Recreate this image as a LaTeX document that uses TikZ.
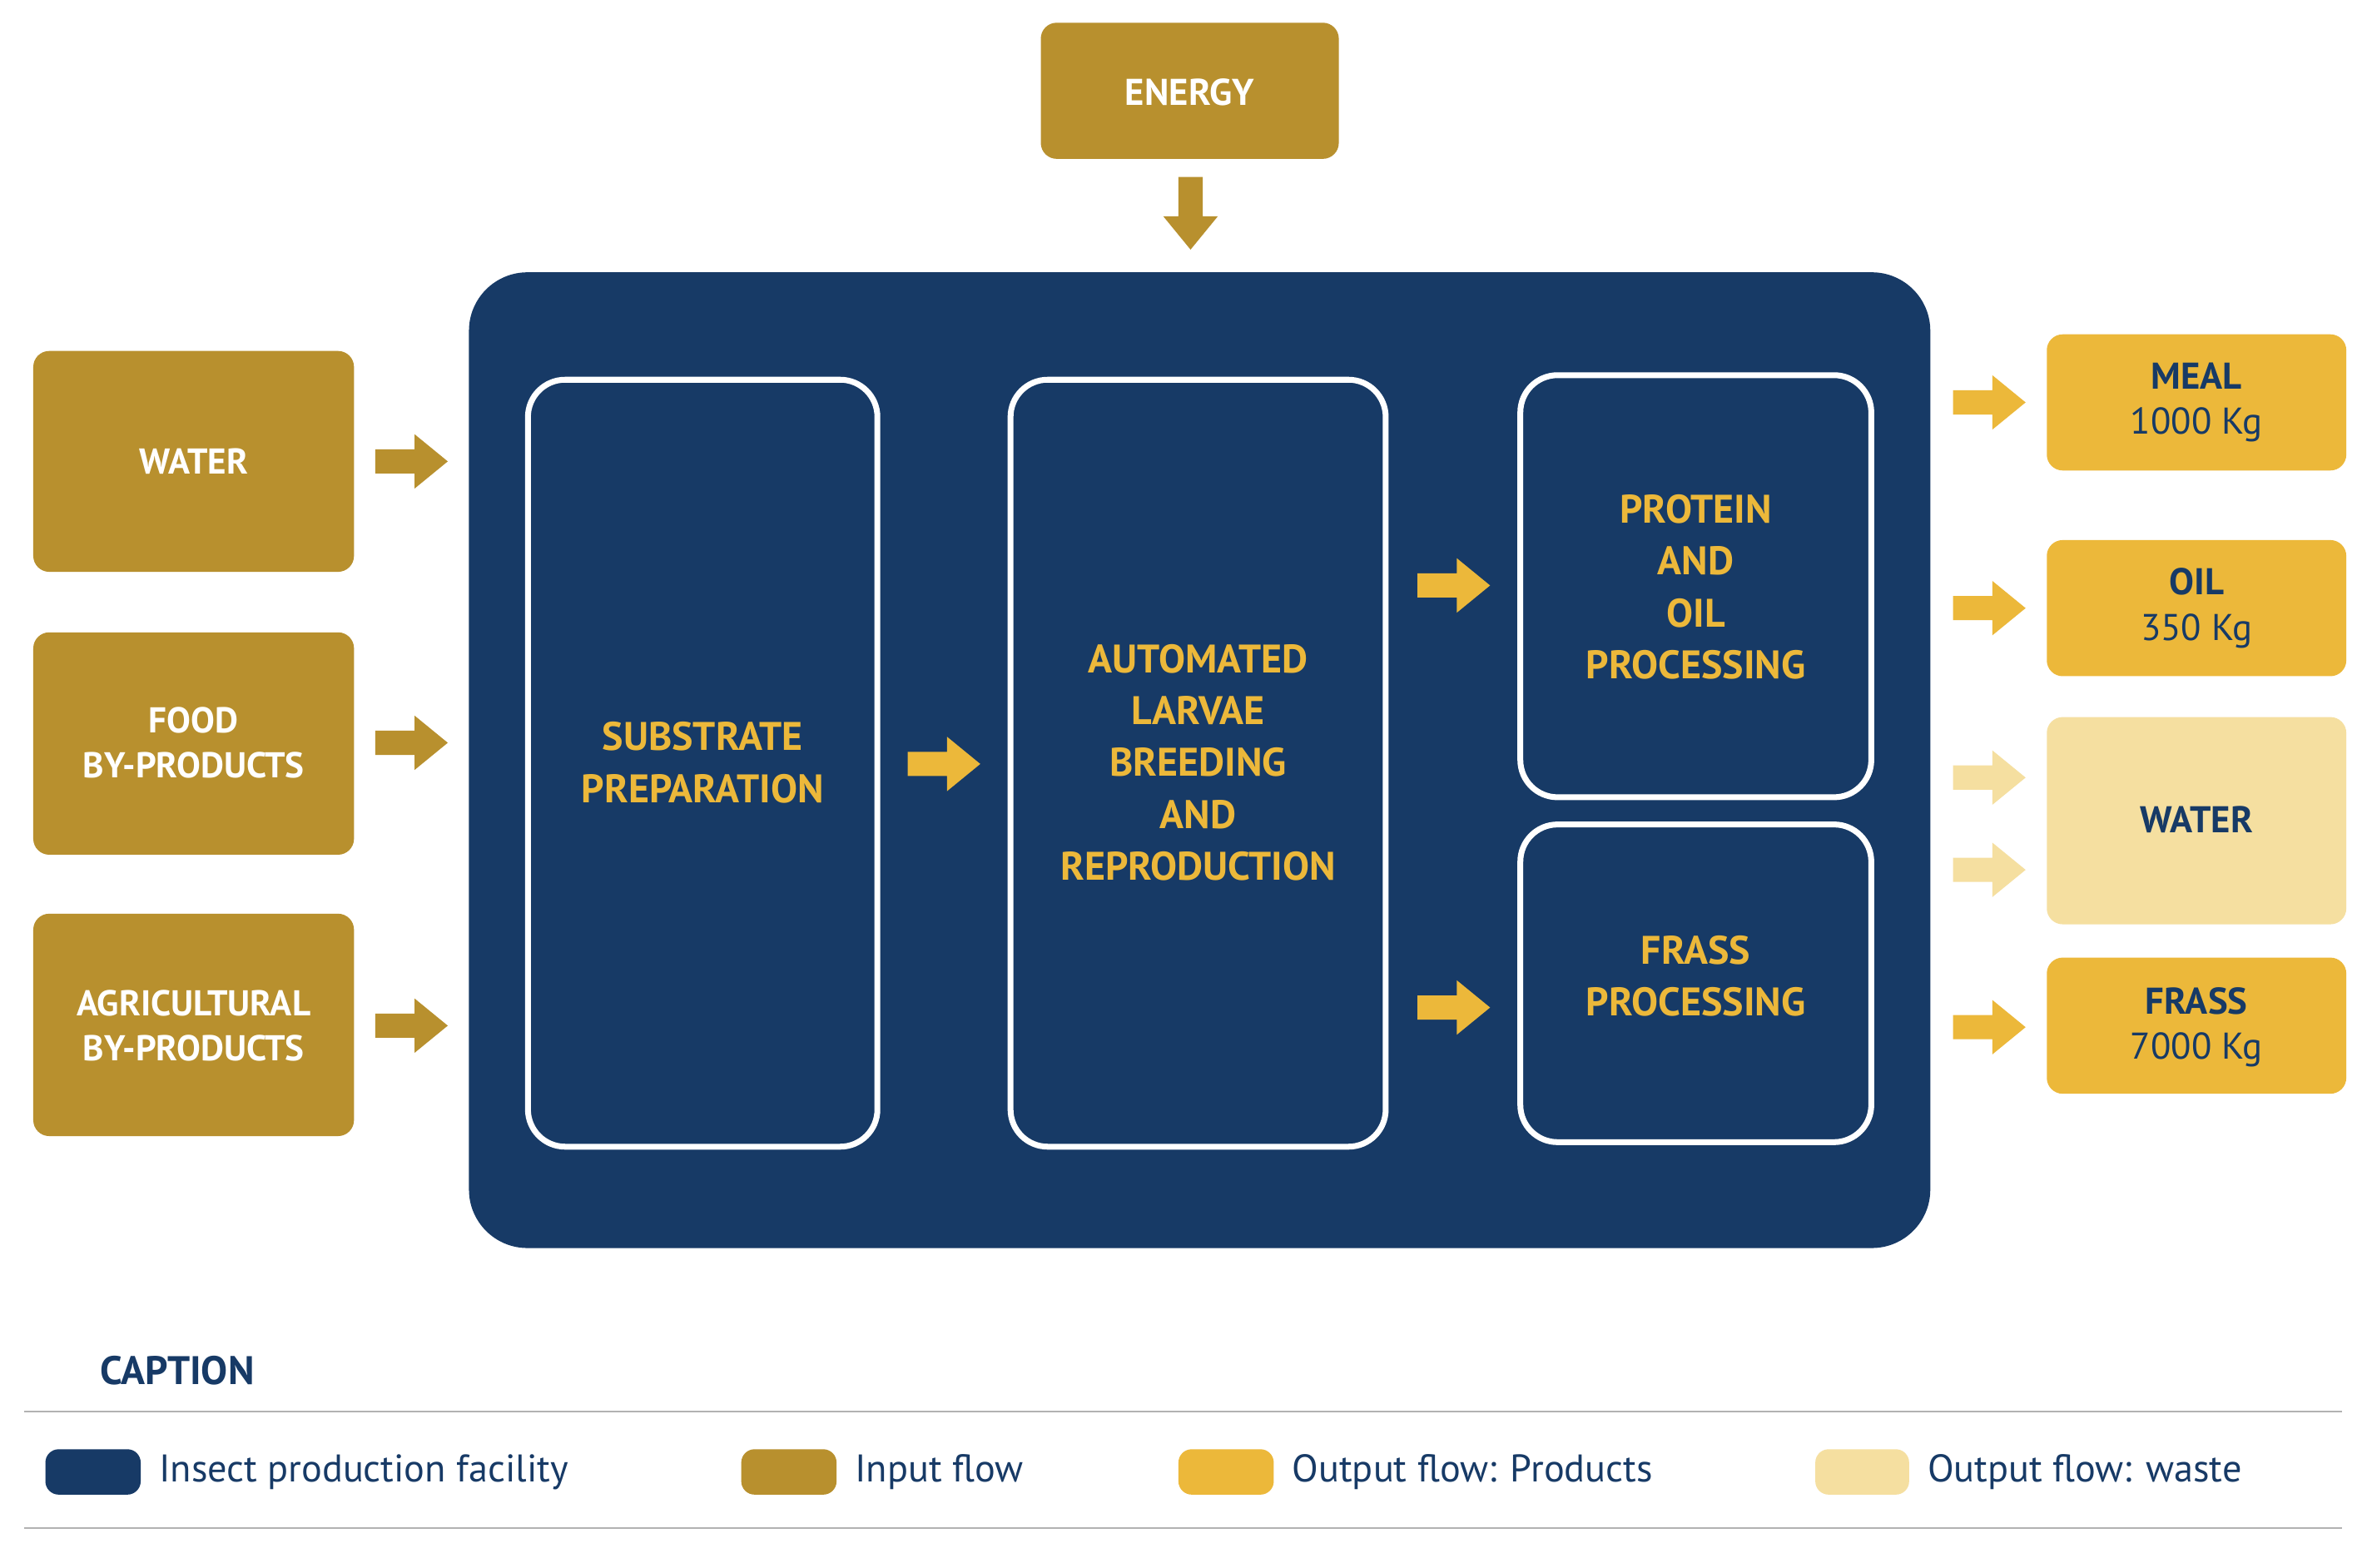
\documentclass[tikz,border=0pt]{standalone}
\usepackage{fontspec}
\setmainfont{PT Sans}
\begin{document}
\begin{tikzpicture}[x=0.02cm,y=-0.02cm,
  blue/.style={fill=dblue},
  box/.style={rounded corners=6pt,inner sep=0pt,align=center,font=\fontsize{14}{18}\selectfont\bfseries},
  inner/.style={draw=white,line width=2.2pt,rounded corners=14pt,inner sep=0pt,align=center,text=prod,font=\fontsize{15}{19.5}\selectfont\bfseries},
  arr/.pic={\fill[pic actions] (0,-8) -- (26,-8) -- (26,-18) -- (48,0) -- (26,18) -- (26,8) -- (0,8) -- cycle;},
  darr/.pic={\fill[pic actions] (-8,0) -- (-8,-26) -- (8,-26) -- (8,0) -- (18,0) -- (0,22) -- (-18,0) -- (8,0) -- cycle;}]
\definecolor{dblue}{HTML}{173A66}
\definecolor{inp}{HTML}{B8902E}
\definecolor{prod}{HTML}{ECB83A}
\definecolor{waste}{HTML}{F5DFA0}
\useasboundingbox[fill=white] (0,0) rectangle (1568,1036);
% energy
\node[box,fill=inp,text=white,minimum width=197\pgflinewidth] (energy) at (786.5,60) {};
\fill[inp,rounded corners=6pt] (688,15) rectangle (885,105);
\node[box,text=white] (en) at (786.5,61) {ENERGY};
\pic[fill=inp] at (787,143) {darr};
% big box
\fill[dblue,rounded corners=22pt] (310,180) rectangle (1276,825);
% inputs
\foreach \n/\t/\ya/\yb/\ym in {w/WATER/232/378/305, f/FOOD\\BY-PRODUCTS/418/565/491, a/AGRICULTURAL\\BY-PRODUCTS/604/751/678}{
  \fill[inp,rounded corners=6pt] (22,\ya) rectangle (234,\yb);
  \node[box,text=white,font=\fontsize{13.5}{17}\selectfont\bfseries] (\n) at (128,\ym) {\t};
  \pic[fill=inp] at (248,\ym) {arr};
}
% inner boxes
\node[inner,minimum width=231\pgflinewidth] at (0,0) {};
\draw[white,line width=2.2pt,rounded corners=14pt] (349,251) rectangle (580,758);
\node[inner,draw=none] (sub) at (464.5,504) {SUBSTRATE\\PREPARATION};
\draw[white,line width=2.2pt,rounded corners=14pt] (668,251) rectangle (916,758);
\node[inner,draw=none] (alb) at (792,504) {AUTOMATED\\LARVAE\\BREEDING\\AND\\REPRODUCTION};
\draw[white,line width=2.2pt,rounded corners=14pt] (1005,248) rectangle (1237,527);
\node[inner,draw=none] (pop) at (1121,388) {PROTEIN\\AND\\OIL\\PROCESSING};
\draw[white,line width=2.2pt,rounded corners=14pt] (1005,545) rectangle (1237,755);
\node[inner,draw=none] (fp) at (1121,645) {FRASS\\PROCESSING};
\pic[fill=prod] at (600,505) {arr};
\pic[fill=prod] at (937,387) {arr};
\pic[fill=prod] at (937,666) {arr};
% outputs
\fill[prod,rounded corners=6pt] (1353,221) rectangle (1551,311);
\node[box,text=dblue] (meal) at (1452,266) {MEAL\\[-1pt]{\mdseries 1000 Kg}};
\fill[prod,rounded corners=6pt] (1353,357) rectangle (1551,447);
\node[box,text=dblue] (oil) at (1452,402) {OIL\\[-1pt]{\mdseries 350 Kg}};
\fill[waste,rounded corners=6pt] (1353,474) rectangle (1551,611);
\node[box,text=dblue] (wat) at (1452,542) {WATER};
\fill[prod,rounded corners=6pt] (1353,633) rectangle (1551,723);
\node[box,text=dblue] (fr) at (1452,679) {FRASS\\[-1pt]{\mdseries 7000 Kg}};
\pic[fill=prod] at (1291,266) {arr};
\pic[fill=prod] at (1291,402) {arr};
\pic[fill=waste] at (1291,514) {arr};
\pic[fill=waste] at (1291,575) {arr};
\pic[fill=prod] at (1291,679) {arr};
% caption
\node[anchor=west,text=dblue,font=\fontsize{15}{18}\selectfont\bfseries] (cap) at (60,906) {CAPTION};
\draw[gray!60,line width=0.8pt] (16,933) -- (1548,933);
\draw[gray!60,line width=0.8pt] (16,1010) -- (1548,1010);
\foreach \xa/\xb/\c/\t in {30/93/dblue/Insect production facility, 490/553/inp/Input flow, 779/842/prod/Output flow: Products, 1200/1262/waste/Output flow: waste}{
  \fill[\c,rounded corners=5pt] (\xa,958) rectangle (\xb,988);
  \node[anchor=west,text=dblue,font=\fontsize{14.5}{17}\selectfont] at (\xb+6,973) {\t};
}
\end{tikzpicture}
\end{document}
